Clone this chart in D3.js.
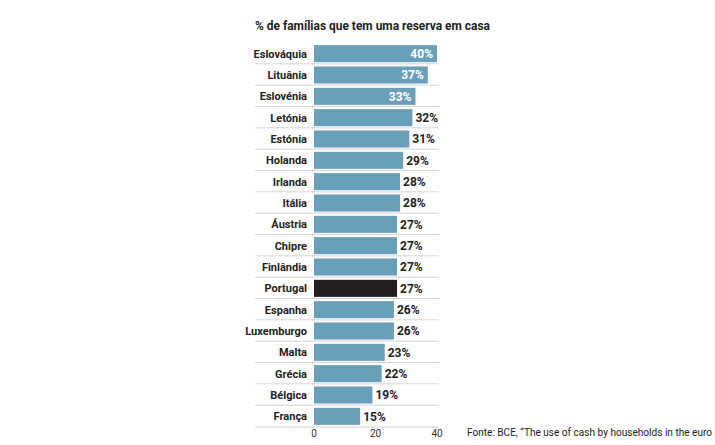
<!DOCTYPE html>
<html><head><meta charset="utf-8">
<script src="https://cdn.jsdelivr.net/npm/d3@7"></script>
<style>body{margin:0;background:#fff}svg{display:block}text{font-family:"Liberation Sans Narrow","Roboto",sans-serif}</style>
</head><body><svg id="c" width="715" height="445"></svg>
<script>
const countries=["Eslováquia","Lituânia","Eslovénia","Letónia","Estónia","Holanda","Irlanda","Itália","Áustria","Chipre","Finlândia","Portugal","Espanha","Luxemburgo","Malta","Grécia","Bélgica","França"];
const values=[40,37,33,32,31,29,28,28,27,27,27,27,26,26,23,22,19,15];
const ticks=[0,20,40];
const highlight="Portugal";
const svg=d3.select("#c");
const x=d3.scaleLinear().domain([0,40]).range([314,437]);
const y=d3.scaleBand().domain(countries).range([43,427]).paddingInner(0.2).paddingOuter(0.1);
const step=y.step();
svg.append("text").attr("x",255).attr("y",30).attr("font-size",13).attr("font-weight","bold").attr("fill","#222").attr("textLength",235).attr("lengthAdjust","spacingAndGlyphs").text("% de famílias que tem uma reserva em casa");
const g=svg.append("g");
countries.forEach((c,i)=>{
  const yy=y(c)-step*y.paddingInner()/2-0.5;
  if(i>0) g.append("line").attr("x1",255).attr("x2",439).attr("y1",yy).attr("y2",yy).attr("stroke","#d4d4d4");
});
svg.append("line").attr("x1",255).attr("x2",439).attr("y1",427).attr("y2",427).attr("stroke","#cfcfcf");
countries.forEach((c,i)=>{
  const v=values[i];
  g.append("rect").attr("x",x(0)).attr("y",y(c)).attr("width",x(v)-x(0)).attr("height",y.bandwidth()).attr("fill",c===highlight?"#231f20":"#6a9fba");
  g.append("text").attr("x",307).attr("y",y(c)+y.bandwidth()/2).attr("dy","0.35em").attr("text-anchor","end").attr("font-size",11).attr("font-weight","bold").attr("fill","#222").text(c);
  const inside=i<3;
  g.append("text").attr("x",inside?x(v)-4:x(v)+3).attr("y",y(c)+y.bandwidth()/2).attr("dy","0.35em").attr("text-anchor",inside?"end":"start").attr("font-size",12).attr("font-weight","bold").attr("fill",inside?"#fff":"#222").text(v+"%");
});
ticks.forEach(t=>svg.append("text").attr("x",x(t)).attr("y",437).attr("text-anchor","middle").attr("font-size",10).attr("fill","#333").text(t));
svg.append("text").attr("x",467).attr("y",436).attr("font-size",11).attr("fill","#222").attr("textLength",245).attr("lengthAdjust","spacingAndGlyphs").text("Fonte: BCE, “The use of cash by households in the euro");
</script></body></html>
